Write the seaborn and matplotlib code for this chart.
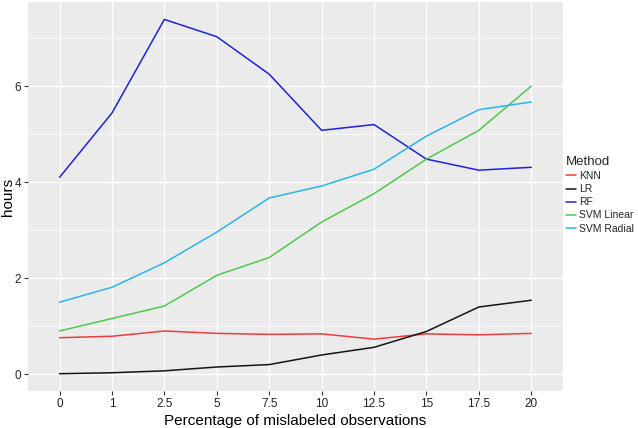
import pandas as pd
import matplotlib
matplotlib.use("Agg")
import matplotlib.pyplot as plt
import seaborn as sns
from matplotlib.ticker import MultipleLocator

# x categories (percentage of mislabeled observations)
pct_labels = ["0", "1", "2.5", "5", "7.5", "10", "12.5", "15", "17.5", "20"]

# hours per method
knn = [0.76, 0.79, 0.90, 0.85, 0.83, 0.84, 0.73, 0.84, 0.82, 0.85]
lr = [0.01, 0.03, 0.07, 0.15, 0.20, 0.40, 0.56, 0.89, 1.40, 1.54]
rf = [4.10, 5.44, 7.39, 7.03, 6.25, 5.08, 5.20, 4.48, 4.25, 4.31]
svm_linear = [0.90, 1.16, 1.42, 2.06, 2.43, 3.17, 3.76, 4.48, 5.08, 6.00]
svm_radial = [1.50, 1.81, 2.32, 2.96, 3.67, 3.92, 4.27, 4.96, 5.51, 5.67]

methods = ["KNN", "LR", "RF", "SVM Linear", "SVM Radial"]
colors = ["#F03C3C", "#151515", "#2020E6", "#4DC94D", "#2AB5EA"]


def build_frame():
    rows = []
    for name, vals in zip(methods, [knn, lr, rf, svm_linear, svm_radial]):
        for lab, v in zip(pct_labels, vals):
            rows.append({"pct": lab, "hours": v, "Method": name})
    return pd.DataFrame(rows)


def main():
    data = build_frame()
    sns.set_theme(style="darkgrid")
    plt.rcParams["font.family"] = ["Liberation Sans", "DejaVu Sans"]

    fig, ax = plt.subplots(figsize=(6.38, 4.28), dpi=100)
    fig.subplots_adjust(left=0.044, right=0.882, top=0.995, bottom=0.086)

    ax.set_facecolor("#EBEBEB")
    sns.lineplot(data=data, x="pct", y="hours", hue="Method",
                 palette=dict(zip(methods, colors)), linewidth=1.1,
                 sort=False, ax=ax)

    ax.set_xlim(-0.6, len(pct_labels) - 0.4)
    ax.set_ylim(-0.354, 7.75)
    ax.yaxis.set_major_locator(MultipleLocator(2))
    ax.yaxis.set_minor_locator(MultipleLocator(1))
    ax.grid(which="major", color="white", linewidth=1.0)
    ax.grid(which="minor", axis="y", color="white", linewidth=0.5)
    ax.set_axisbelow(True)
    for s in ax.spines.values():
        s.set_visible(False)

    ax.tick_params(axis="both", which="major", length=3, width=0.8,
                   color="#333333", labelsize=8.5, labelcolor="#222222", pad=2)
    ax.tick_params(axis="y", which="minor", length=0)
    ax.tick_params(left=True, bottom=True)

    ax.set_xlabel("Percentage of mislabeled observations", fontsize=11,
                  color="black", labelpad=3)
    ax.set_ylabel("hours", fontsize=11, color="black")
    ax.yaxis.set_label_coords(-0.024, 0.5)

    handles, labels = ax.get_legend_handles_labels()
    ax.legend(handles, labels, title="Method", loc="center left",
              bbox_to_anchor=(1.0, 0.505), frameon=False, fontsize=7.5,
              title_fontsize=9.5, handlelength=1.0, handletextpad=0.25,
              labelspacing=0.3, borderaxespad=0.1, borderpad=0.2)
    ax.get_legend()._legend_box.align = "left"

    fig.savefig("out.png", dpi=100)


if __name__ == "__main__":
    main()
